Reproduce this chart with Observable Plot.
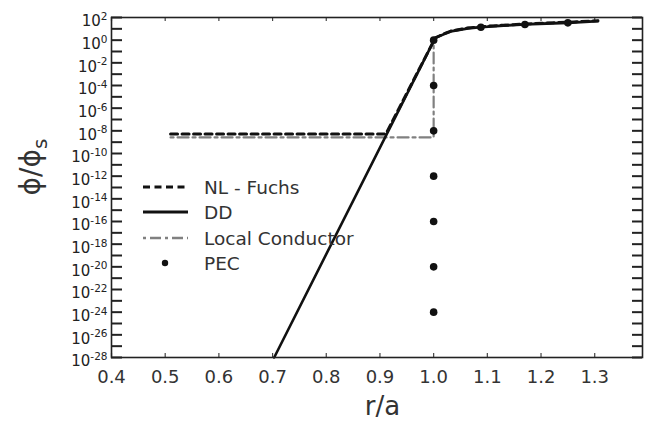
<!DOCTYPE html>
<html><head><meta charset="utf-8">
<script src="https://cdn.jsdelivr.net/npm/d3@7"></script>
<script src="https://cdn.jsdelivr.net/npm/@observablehq/plot@0.6"></script>
<style>
body{margin:0;background:#fff;}
#wrap{position:relative;width:647px;height:423px;font-family:"DejaVu Sans",sans-serif;}
#legend{position:absolute;left:138px;top:174px;}
</style></head><body><div id="wrap"></div>
<script>
// ---- data (log10 of phi/phi_s) ----
const ddR   = [0.703, 1.003, 1.02, 1.032, 1.064, 1.088, 1.13, 1.17, 1.21, 1.25, 1.306];
const ddLog = [-28,   0.2,   0.55, 0.76,  1.04,  1.14,  1.27, 1.38, 1.46, 1.53, 1.67];

const nlR   = [0.51,  0.911, 1.003, 1.02, 1.032, 1.064, 1.088, 1.13, 1.17, 1.21, 1.25, 1.306];
const nlLog = [-8.28, -8.28, 0.2,   0.58, 0.8,   1.08,  1.19,  1.32, 1.43, 1.51, 1.58, 1.72];

const lcR   = [0.51,  1.0,   1.0, 1.02, 1.032, 1.064, 1.088, 1.13, 1.17, 1.21, 1.25, 1.306];
const lcLog = [-8.58, -8.58, 0.1, 0.6,  0.82,  1.1,   1.2,   1.33, 1.44, 1.52, 1.59, 1.72];

const pecR   = [1.0, 1.0, 1.0, 1.0, 1.0, 1.0, 1.0, 1.088, 1.17, 1.25];
const pecLog = [0, -4, -8, -12, -16, -20, -24, 1.14, 1.38, 1.53];

const xTicks = [0.4, 0.5, 0.6, 0.7, 0.8, 0.9, 1.0, 1.1, 1.2, 1.3];
const yTickExp = d3.range(-28, 3, 1);      // minor decade ticks
const yLabelExp = d3.range(-28, 3, 2);     // labelled decades

const legendNames = ["NL - Fuchs", "DD", "Local Conductor", "PEC"];

// ---- build tables ----
const toRows = (R, L) => R.map((r, i) => ({r, v: Math.pow(10, L[i])}));
const dd = toRows(ddR, ddLog), nl = toRows(nlR, nlLog), lc = toRows(lcR, lcLog), pec = toRows(pecR, pecLog);
const yTicks = yTickExp.map(e => Math.pow(10, e));
const yLabels = yLabelExp.map(e => Math.pow(10, e));

const W = 647, H = 423, mL = 111, mR = 5, mT = 17, mB = 66;
const pw = W - mL - mR, ph = H - mT - mB;

const chart = Plot.plot({
  width: W, height: H, marginLeft: mL, marginRight: mR, marginTop: mT, marginBottom: mB,
  style: {fontFamily: "DejaVu Sans, sans-serif", background: "#fff"},
  x: {domain: [0.4, 1.389]},
  y: {type: "log", domain: [1e-28, 1e2]},
  marks: [
    Plot.tickY(yTicks, {y: d => d, insetRight: pw - 11, stroke: "#222", strokeWidth: 2}),
    Plot.tickY(yTicks, {y: d => d, insetLeft: pw - 10, stroke: "#222", strokeWidth: 2}),
    Plot.tickX(xTicks, {x: d => d, insetTop: ph - 4, stroke: "#444", strokeWidth: 1.2}),
    Plot.tickX(xTicks, {x: d => d, insetBottom: ph - 4, stroke: "#444", strokeWidth: 1.2}),
    Plot.axisX(xTicks, {tickSize: 0, tickPadding: 13, fontSize: 18, fill: "#333",
      tickFormat: d3.format(".1f"), label: null}),
    Plot.axisY(yLabels, {tickSize: 0, tickPadding: 4, fontSize: 15, fill: "#222",
      tickFormat: d => String(Math.round(Math.log10(d))), label: null}),
    Plot.line(lc, {x: "r", y: "v", stroke: "#808080", strokeWidth: 2.2, strokeDasharray: "3,4,11,4"}),
    Plot.line(nl, {x: "r", y: "v", stroke: "#111", strokeWidth: 3, strokeDasharray: "7,4.5"}),
    Plot.line(dd, {x: "r", y: "v", stroke: "#111", strokeWidth: 2.6}),
    Plot.dot(pec, {x: "r", y: "v", r: 3.8, fill: "#111", stroke: "none"}),
    Plot.frame({stroke: "#222", strokeWidth: 1.6})
  ]
});

const svg = d3.select(chart);
// superscript exponents on y tick labels
svg.selectAll('g[aria-label="y-axis tick label"] text').each(function () {
  const t = d3.select(this);
  const e = t.text();
  t.text("10");
  t.append("tspan").attr("font-size", 10.5).attr("dy", "-0.6em").text(e);
  const tr = t.attr("transform") || "";
  t.attr("transform", tr + " translate(0,4)");
});
// axis titles
svg.append("text")
  .attr("transform", `translate(${mL + pw / 2 + 6},${H - 8})`)
  .attr("text-anchor", "middle").attr("font-size", 26).attr("fill", "#333")
  .text("r/a");
const yl = svg.append("text")
  .attr("transform", `translate(30,${mT + ph / 2 - 20}) rotate(-90)`)
  .attr("text-anchor", "middle").attr("dy", "0.35em").attr("font-size", 28).attr("fill", "#333");
yl.append("tspan").text("ϕ/ϕ");
yl.append("tspan").attr("font-size", 20).attr("dy", "0.35em").text("s");

document.getElementById("wrap").appendChild(chart);

// legend overlay
const lg = d3.select("#wrap").append("svg").attr("id", "legend").attr("width", 240).attr("height", 100);
const rowY = [13, 38, 64, 89];
const styles = [
  {stroke: "#111", w: 3, dash: "7,4.5"},
  {stroke: "#111", w: 2.8, dash: null},
  {stroke: "#808080", w: 2.4, dash: "3,4,11,4"},
  null
];
legendNames.forEach((name, i) => {
  const g = lg.append("g").attr("transform", `translate(0,${rowY[i]})`);
  if (styles[i]) {
    g.append("line").attr("x1", 5).attr("x2", 50).attr("y1", 0).attr("y2", 0)
      .attr("stroke", styles[i].stroke).attr("stroke-width", styles[i].w)
      .attr("stroke-dasharray", styles[i].dash);
  } else {
    g.append("circle").attr("cx", 27).attr("cy", 0).attr("r", 3.2).attr("fill", "#111");
  }
  g.append("text").attr("x", 66).attr("y", 0).attr("dy", "0.36em")
    .attr("font-size", 18.5).attr("fill", "#333").attr("font-family", "DejaVu Sans, sans-serif")
    .text(name);
});
</script></body></html>
